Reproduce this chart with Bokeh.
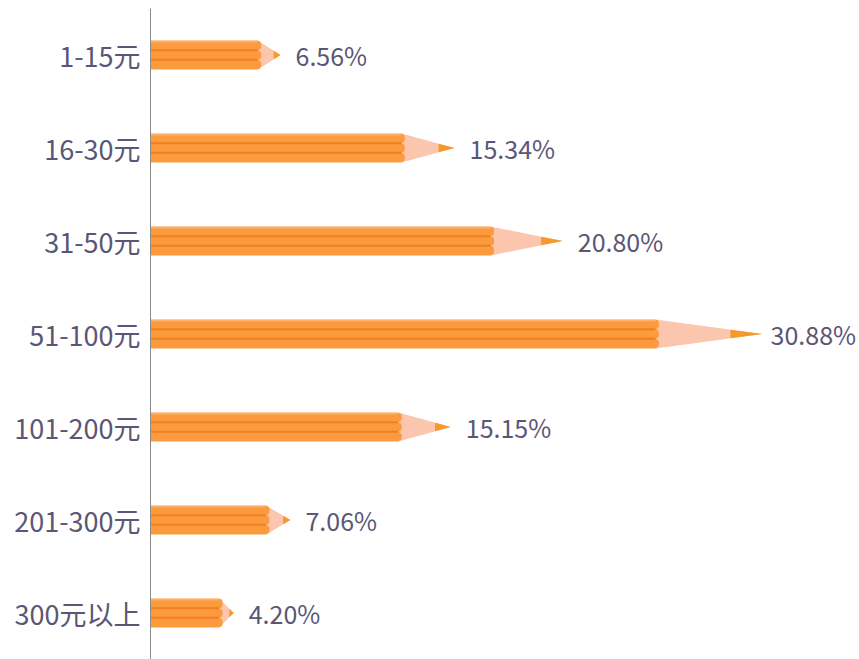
from bokeh.plotting import figure
from bokeh.models import ColumnDataSource, Range1d, FixedTicker
from bokeh.embed import file_html
from bokeh.resources import INLINE
from bokeh.core.properties import value

categories = ["1-15元", "16-30元", "31-50元", "51-100元", "101-200元", "201-300元", "300元以上"]
shares = [6.56, 15.34, 20.80, 30.88, 15.15, 7.06, 4.20]
label_texts = ["6.56%", "15.34%", "20.80%", "30.88%", "15.15%", "7.06%", "4.20%"]

FONT = "Noto Sans CJK SC"
TEXT_COLOR = "#5b5675"
H = 0.31          # pencil thickness (row units)
BODY_FRAC = 0.825 # share of length that is the body
TIP_FRAC = 0.70   # where orange graphite starts within the cone

rows = list(range(len(categories)))
body_end = [v * BODY_FRAC for v in shares]

p = figure(width=859, height=659, output_backend="svg", toolbar_location=None,
           x_range=Range1d(0, 35.77), y_range=Range1d(6.5, -0.5),
           min_border_left=150, min_border_right=0, min_border_top=8, min_border_bottom=0)
p.xaxis.visible = False
p.xgrid.visible = False
p.ygrid.visible = False
p.outline_line_color = None
p.background_fill_color = "white"
p.border_fill_color = "white"

yax = p.yaxis[0]
yax.ticker = FixedTicker(ticks=rows)
yax.major_label_overrides = {i: c for i, c in enumerate(categories)}
yax.axis_line_color = "#8a8a8a"
yax.axis_line_width = 1
yax.major_tick_line_color = None
yax.major_tick_out = 0
yax.major_tick_in = 0
yax.minor_tick_line_color = None
yax.major_label_text_font = FONT
yax.major_label_text_font_size = "27px"
yax.major_label_text_color = TEXT_COLOR
yax.major_label_standoff = 10

# cone (wood)
cone_xs, cone_ys, tip_xs, tip_ys = [], [], [], []
for r, v, be in zip(rows, shares, body_end):
    cone_xs.append([be, be, v])
    cone_ys.append([r - H / 2, r + H / 2, r])
    ts = be + (v - be) * TIP_FRAC
    frac = 1 - TIP_FRAC
    tip_xs.append([ts, ts, v])
    tip_ys.append([r - H / 2 * frac, r + H / 2 * frac, r])
p.patches(cone_xs, cone_ys, fill_color="#fcc5ad", line_color=None)
p.patches(tip_xs, tip_ys, fill_color="#f7982c", line_color=None)

# body
src = ColumnDataSource(dict(y=rows, right=body_end, v=shares, lab=label_texts))
p.hbar(y="y", left=0, right="right", height=H, source=src, fill_color="#fb9b3e", line_color=None)

# scalloped end of body
sx, sy = [], []
for r, be in zip(rows, body_end):
    for k in (-1, 0, 1):
        sx.append(be)
        sy.append(r + k * H / 3)
p.ellipse(x=sx, y=sy, width=7, height=H / 3 * 0.95, width_units="screen",
          fill_color="#fb9b3e", line_color=None)

# stripes
seg_x0, seg_x1, seg_y = [], [], []
for r, be in zip(rows, body_end):
    for k in (-1, 1):
        seg_x0.append(0)
        seg_x1.append(be)
        seg_y.append(r + k * H / 6)
p.segment(x0=seg_x0, y0=seg_y, x1=seg_x1, y1=seg_y, line_color="#f07f22", line_width=2)
# lighter top highlight
p.segment(x0=[0] * len(rows), y0=[r - H / 2 + 0.012 for r in rows], x1=body_end,
          y1=[r - H / 2 + 0.012 for r in rows], line_color="#fdb06a", line_width=1.5)

# value labels
offsets = [8 if v == max(shares) else 15 for v in shares]
src2 = ColumnDataSource(dict(x=shares, y=rows, t=label_texts, off=offsets))
p.text(x="x", y="y", text="t", x_offset="off", source=src2, text_font=value(FONT),
       text_font_size="25px", text_color=TEXT_COLOR, text_baseline="middle", text_align="left")

open("out.html", "w").write(file_html(p, INLINE))
